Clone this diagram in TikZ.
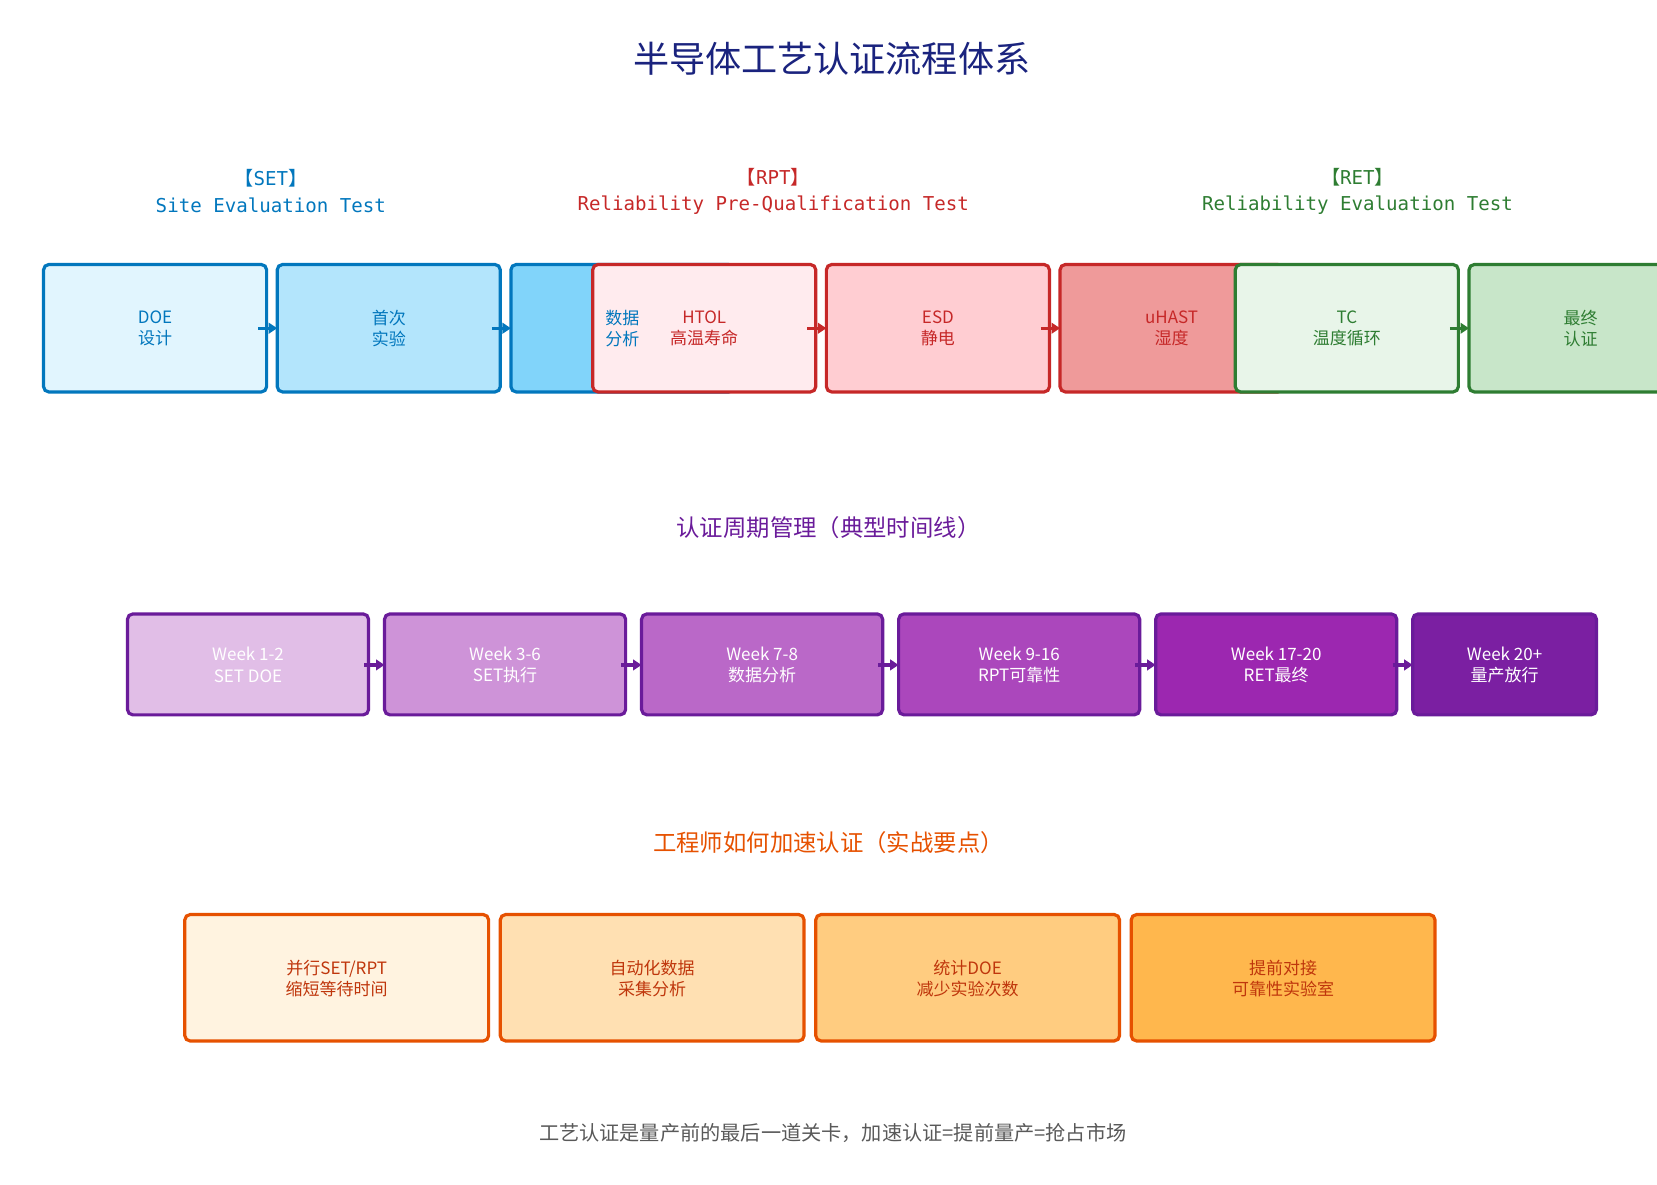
\documentclass[tikz,border=0pt]{standalone}
\usepackage{fontspec}
\setmainfont{Noto Sans CJK SC}
\newfontfamily\monoz{DejaVu Sans Mono}
\newfontfamily\cjk{Noto Sans CJK SC}
\usetikzlibrary{arrows.meta}
\definecolor{navy}{HTML}{1A237E}
\definecolor{cB}{HTML}{0277BD}
\definecolor{cR}{HTML}{C62828}
\definecolor{cG}{HTML}{2E7D32}
\definecolor{cP}{HTML}{6A1B9A}
\definecolor{cO}{HTML}{E65100}
\definecolor{cOt}{HTML}{BF360C}
\begin{document}
\begin{tikzpicture}[x=0.5pt,y=-0.5pt,
  box/.style={draw,line width=1.5pt,rounded corners=2.5pt},
  lbl/.style={align=center,font=\fontsize{8}{10}\selectfont},
  arr/.style={line width=1.5pt,-{Triangle[length=4pt,width=5pt]}},
  hdr/.style={align=center,font=\monoz\fontsize{9}{12.5}\selectfont}]
\useasboundingbox (0,0) rectangle (1560,1115.6);
\node[font=\fontsize{17}{20}\selectfont,text=navy] (title) at (783,55) {半导体工艺认证流程体系};
\node[hdr,text=cB] (hS) at (255,180) {{\cjk 【}SET{\cjk 】}\\Site Evaluation Test};
\node[hdr,text=cR] (hR) at (728,180) {{\cjk 【}RPT{\cjk 】}\\Reliability Pre-Qualification Test};
\node[hdr,text=cG] (hT) at (1278,180) {{\cjk 【}RET{\cjk 】}\\Reliability Evaluation Test};
% top row boxes
\draw[box,draw=cB,fill={rgb,255:red,225;green,245;blue,254}] (41,249) rectangle (251,369);
\draw[box,draw=cB,fill={rgb,255:red,179;green,229;blue,252}] (261,249) rectangle (471,369);
\draw[box,draw=cB,fill={rgb,255:red,129;green,212;blue,250}] (481,249) rectangle (691,369);
\draw[box,draw=cR,fill={rgb,255:red,255;green,235;blue,238}] (558,249) rectangle (768,369);
\draw[box,draw=cR,fill={rgb,255:red,255;green,205;blue,210}] (778,249) rectangle (988,369);
\draw[box,draw=cR,fill={rgb,255:red,239;green,154;blue,154}] (998,249) rectangle (1208,369);
\draw[box,draw=cG,fill={rgb,255:red,232;green,245;blue,233}] (1163,249) rectangle (1373,369);
\begin{scope}
\clip (0,0) rectangle (1560,1115.6);
\draw[box,draw=cG,fill={rgb,255:red,200;green,230;blue,201}] (1383,249) rectangle (1593,369);
\end{scope}
\coordinate (a1s) at (243,309); \coordinate (a1e) at (261,309);
\coordinate (a2s) at (463,309); \coordinate (a2e) at (481,309);
\coordinate (a3s) at (760,309); \coordinate (a3e) at (778,309);
\coordinate (a4s) at (980,309); \coordinate (a4e) at (998,309);
\coordinate (a5s) at (1365,309); \coordinate (a5e) at (1383,309);
\draw[arr,cB] (a1s) -- (a1e);
\draw[arr,cB] (a2s) -- (a2e);
\draw[arr,cR] (a3s) -- (a3e);
\draw[arr,cR] (a4s) -- (a4e);
\draw[arr,cG] (a5s) -- (a5e);
\node[lbl,text=cB] (t1) at (146,309) {DOE\\设计};
\node[lbl,text=cB] (t2) at (366,309) {首次\\实验};
\node[lbl,text=cB] (t3) at (586,309) {数据\\分析};
\node[lbl,text=cR] (t4) at (663,309) {HTOL\\高温寿命};
\node[lbl,text=cR] (t5) at (883,309) {ESD\\静电};
\node[lbl,text=cR] (t6) at (1103,309) {uHAST\\湿度};
\node[lbl,text=cG] (t7) at (1268,309) {TC\\温度循环};
\node[lbl,text=cG] (t8) at (1488,309) {最终\\认证};
% timeline
\node[font=\fontsize{11}{13}\selectfont,text=cP] (s2) at (780,497) {认证周期管理（典型时间线）};
\foreach \n/\xa/\xb/\fc/\ta/\tb in {
 1/120/347/E1BEE7/Week 1-2/SET DOE,
 2/362/589/CE93D8/Week 3-6/SET执行,
 3/604/831/BA68C8/Week 7-8/数据分析,
 4/846/1073/AB47BC/Week 9-16/RPT可靠性,
 5/1088/1315/9C27B0/Week 17-20/RET最终,
 6/1330/1503/7B1FA2/Week 20+/量产放行}{
 \definecolor{tmp}{HTML}{\fc}
 \draw[box,draw=cP,fill=tmp] (\xa,578) rectangle (\xb,673);
 \node[lbl,text=white] (w\n) at ({(\xa+\xb)/2},626) {\ta\\\tb};
}
\foreach \xa in {347,589,831,1073,1315}{
 \draw[arr,cP] (\xa-4,626) coordinate (p) -- (\xa+15,626);
}
% tips
\node[font=\fontsize{11}{13}\selectfont,text=cO] (s3) at (780,793) {工程师如何加速认证（实战要点）};
\foreach \n/\xa/\fc/\ta/\tb in {
 1/174/FFF3E0/{并行SET/RPT}/缩短等待时间,
 2/471/FFE0B2/自动化数据/采集分析,
 3/768/FFCC80/统计DOE/减少实验次数,
 4/1065/FFB74D/提前对接/可靠性实验室}{
 \definecolor{tmp}{HTML}{\fc}
 \draw[box,draw=cO,fill=tmp] (\xa,861) rectangle (\xa+286,980);
 \node[lbl,text=cOt] (o\n) at (\xa+143,921) {\ta\\\tb};
}
\node[font=\fontsize{9.5}{12}\selectfont,text=black!65] (foot) at (784,1067) {工艺认证是量产前的最后一道关卡，加速认证=提前量产=抢占市场};
\end{tikzpicture}
\end{document}
